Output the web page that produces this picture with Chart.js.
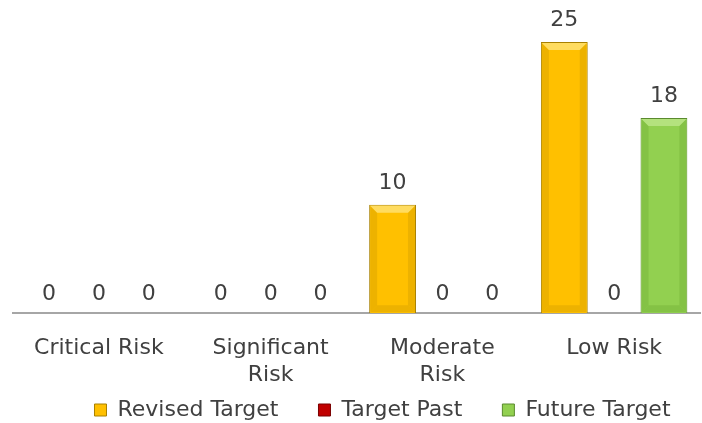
<!DOCTYPE html>
<html>
<head>
<meta charset="utf-8">
<script src="https://cdn.jsdelivr.net/npm/chart.js@4.4.1/dist/chart.umd.min.js"></script>
<style>
  html, body { margin: 0; padding: 0; background: #fff; }
  #wrap { width: 702px; height: 423px; }
</style>
</head>
<body>
<div id="wrap"><canvas id="riskChart"></canvas></div>
<script>
// Chart data
const categories = [['Critical Risk'], ['Significant', 'Risk'], ['Moderate', 'Risk'], ['Low Risk']];
const revisedTarget = [0, 0, 10, 25];
const targetPast = [0, 0, 0, 0];
const futureTarget = [0, 0, 0, 18];

const textColor = '#404040';
const fontFamily = '"DejaVu Sans", sans-serif';
const fontSize = 22;

// light / dark edge colours for the bevelled bar look, per dataset
const bevelColors = [
  { light: '#FFDC60', dark: '#EDB200' },
  { light: '#E04040', dark: '#A80000' },
  { light: '#B4E27E', dark: '#84C245' }
];

// Excel-style bevel: lighter top edge, darker sides and bottom
const bevel = {
  id: 'bevel',
  afterDatasetsDraw(chart) {
    const ctx = chart.ctx;
    const b = 7;
    const poly = (pts, color) => {
      ctx.beginPath();
      ctx.moveTo(pts[0][0], pts[0][1]);
      pts.slice(1).forEach(p => ctx.lineTo(p[0], p[1]));
      ctx.closePath();
      ctx.fillStyle = color;
      ctx.fill();
    };
    ctx.save();
    chart.data.datasets.forEach((ds, i) => {
      const c = bevelColors[i];
      chart.getDatasetMeta(i).data.forEach((bar) => {
        const { x, y, base, width } = bar.getProps(['x', 'y', 'base', 'width'], true);
        if (base - y < 2 * b) return;
        const L = x - width / 2 + 1, R = x + width / 2 - 1, T = y + 1, B = base - 1;
        poly([[L, T], [L + b, T + b], [L + b, B - b], [L, B]], c.dark);
        poly([[R, T], [R - b, T + b], [R - b, B - b], [R, B]], c.dark);
        poly([[L, B], [L + b, B - b], [R - b, B - b], [R, B]], c.dark);
        poly([[L, T], [R, T], [R - b, T + b], [L + b, T + b]], c.light);
      });
    });
    ctx.restore();
  }
};

// Draws the value above each bar (like Excel's "outside end" labels)
const valueLabels = {
  id: 'valueLabels',
  afterDatasetsDraw(chart) {
    const ctx = chart.ctx;
    ctx.save();
    ctx.font = `${fontSize}px ${fontFamily}`;
    ctx.fillStyle = textColor;
    ctx.textAlign = 'center';
    ctx.textBaseline = 'alphabetic';
    chart.data.datasets.forEach((ds, i) => {
      const meta = chart.getDatasetMeta(i);
      meta.data.forEach((bar, j) => {
        ctx.fillText(ds.data[j], bar.x, bar.y - (ds.data[j] ? 16 : 13));
      });
    });
    ctx.restore();
  }
};

// Legend sits a bit right of centre and tight under the labels in the original
const legendShift = {
  id: 'legendShift',
  afterLayout(chart) {
    const lg = chart.legend;
    lg.left += 26;
    lg.right += 26;
    lg.top -= 43;
    lg.bottom -= 43;
  }
};

new Chart(document.getElementById('riskChart'), {
  type: 'bar',
  data: {
    labels: categories,
    datasets: [
      {
        label: 'Revised Target',
        data: revisedTarget,
        backgroundColor: '#FFC000',
        borderColor: '#A88000',
        borderWidth: 1
      },
      {
        label: 'Target Past',
        data: targetPast,
        backgroundColor: '#C00000',
        borderColor: '#7A0000',
        borderWidth: 1
      },
      {
        label: 'Future Target',
        data: futureTarget,
        backgroundColor: '#92D050',
        borderColor: '#5A8A2E',
        borderWidth: 1
      }
    ]
  },
  options: {
    responsive: true,
    maintainAspectRatio: false,
    animation: false,
    layout: { padding: { left: 13, right: 2, top: 42, bottom: -51 } },
    datasets: {
      bar: { categoryPercentage: 0.87, barPercentage: 0.94 }
    },
    plugins: {
      legend: {
        position: 'bottom',
        labels: {
          color: textColor,
          font: { family: fontFamily, size: fontSize },
          boxWidth: 12,
          boxHeight: 12,
          padding: 40
        }
      },
      tooltip: { enabled: false }
    },
    scales: {
      x: {
        grid: { display: false },
        border: { color: '#A6A6A6', width: 2 },
        ticks: {
          color: textColor,
          font: { family: fontFamily, size: fontSize },
          padding: 14,
          maxRotation: 0
        }
      },
      y: {
        display: false,
        min: 0,
        max: 25
      }
    }
  },
  plugins: [bevel, valueLabels, legendShift]
});
</script>
</body>
</html>
